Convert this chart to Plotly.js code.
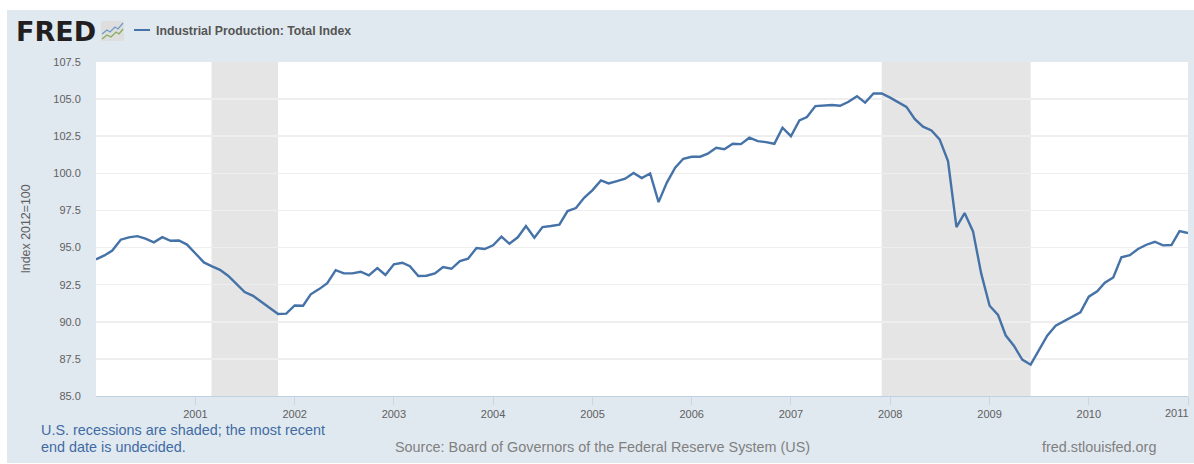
<!DOCTYPE html>
<html>
<head>
<meta charset="utf-8">
<script src="https://cdn.plot.ly/plotly-3.0.1.min.js"></script>
<style>
html,body{margin:0;padding:0;background:#fff;overflow:hidden}
#chart{position:absolute;left:7px;top:10px;width:1187px;height:453px}
</style>
</head>
<body>
<div id="chart"></div>
<script>
const seriesName = "Industrial Production: Total Index";
const startYear = 2000;
const values = [
  94.2,94.47,94.8,95.53,95.69,95.77,95.6,95.35,95.7,95.46,95.48,95.2,
  94.6,94.0,93.75,93.5,93.1,92.55,92.0,91.75,91.35,90.97,90.52,90.55,
  91.1,91.08,91.85,92.2,92.6,93.48,93.26,93.26,93.37,93.13,93.62,93.15,
  93.87,93.98,93.75,93.08,93.1,93.26,93.69,93.57,94.09,94.25,94.97,94.9,
  95.15,95.73,95.26,95.69,96.45,95.66,96.38,96.45,96.54,97.46,97.66,98.35,
  98.87,99.52,99.32,99.48,99.64,100.02,99.68,99.99,98.06,99.36,100.38,100.98,
  101.12,101.12,101.32,101.72,101.63,101.99,101.97,102.4,102.17,102.1,101.99,103.07,
  102.5,103.56,103.79,104.53,104.57,104.6,104.55,104.82,105.2,104.76,105.38,105.38,
  105.1,104.75,104.48,103.65,103.14,102.89,102.29,100.82,96.38,97.32,96.09,93.26,
  91.08,90.46,89.09,88.37,87.45,87.11,88.1,89.06,89.74,90.03,90.37,90.63,
  91.69,92.05,92.63,92.99,94.34,94.49,94.9,95.19,95.39,95.15,95.17,96.11,
  95.98
];
const dates = values.map((_, i) => {
  const y = startYear + Math.floor(i / 12), m = i % 12 + 1;
  return y + "-" + String(m).padStart(2, "0") + "-01";
});
const recessionStarts = ["2001-03-01", "2007-12-01"];
const recessionEnds = ["2001-11-01", "2009-06-01"];
const yTicks = [85,87.5,90,92.5,95,97.5,100,102.5,105,107.5];
const xTickYears = [2001,2002,2003,2004,2005,2006,2007,2008,2009,2010,2011];
const lastYear = xTickYears[xTickYears.length - 1];
const yTitle = "Index 2012=100";
const noteLines = ["U.S. recessions are shaded; the most recent", "end date is undecided."];
const sourceText = "Source: Board of Governors of the Federal Reserve System (US)";
const siteText = "fred.stlouisfed.org";

const W = 1187, H = 453, M = {l:89, r:6, t:52, b:67};
const PW = W - M.l - M.r, PH = H - M.t - M.b;
// page pixel -> paper fraction, for the furniture around the plot
const px = x => (x - 7 - M.l) / PW;
const py = y => 1 - (y - 10 - M.t) / PH;

const icon = "data:image/svg+xml," + encodeURIComponent(
 '<svg xmlns="http://www.w3.org/2000/svg" width="23" height="20" viewBox="0 0 23 20">' +
 '<rect width="23" height="20" rx="2" fill="#dedede"/>' +
 '<path d="M1 13 L6 9 L9 11 L14 6 L17 8 L22 2" fill="none" stroke="#6f9cc4" stroke-width="1.3"/>' +
 '<path d="M1 18 L6 14 L10 16 L15 11 L18 13 L22 8" fill="none" stroke="#85ad5f" stroke-width="1.3"/>' +
 '</svg>');

const FONT = "Liberation Sans, Arial, sans-serif";
const note = (text, x, y, opts) => Object.assign({
  text, xref:"paper", yref:"paper", x:px(x), y:py(y), xanchor:"left", yanchor:"middle",
  showarrow:false, align:"left", borderpad:0,
  font:{family:FONT, size:14.4, color:"#808080"}
}, opts);

const shapes = recessionStarts.map((s, i) => ({
  type:"rect", xref:"x", yref:"paper", x0:s, x1:recessionEnds[i], y0:0, y1:1,
  fillcolor:"#e5e5e5", line:{width:0}, layer:"between"
}));
shapes.push({type:"line", xref:"paper", yref:"paper", x0:px(134), x1:px(150), y0:py(30), y1:py(30),
  line:{color:"#4572a7", width:2}});

Plotly.newPlot("chart", [{
  type:"scatter", mode:"lines", name:seriesName, x:dates, y:values,
  line:{color:"#4572a7", width:2.4}, hoverinfo:"x+y", cliponaxis:false
}], {
  width:W, height:H, margin:M, showlegend:false,
  paper_bgcolor:"#e1e9f0", plot_bgcolor:"#ffffff",
  font:{family:FONT, size:11, color:"#606060"},
  xaxis:{
    type:"date", range:["2000-01-01","2011-01-01"], showgrid:false, zeroline:false,
    tickmode:"array",
    tickvals:xTickYears.map(y => y + "-01-01"),
    ticktext:xTickYears.map(y => y === lastYear ? "" : String(y)),
    ticks:"outside", ticklen:8, tickwidth:1, tickcolor:"#c8d6e6",
    showline:true, linecolor:"#c0d0e0", linewidth:1,
    tickfont:{size:11, color:"#606060"}, tickangle:0, automargin:false
  },
  yaxis:{
    range:[85,107.5], tickmode:"array", tickvals:yTicks, ticktext:yTicks.map(v => v.toFixed(1)),
    showgrid:true, gridcolor:"#eeeeee", gridwidth:1.5, zeroline:false, showline:false,
    ticks:"outside", ticklen:12, tickcolor:"rgba(0,0,0,0)",
    tickfont:{size:11, color:"#606060"}, automargin:false,
    title:{text:yTitle, font:{size:12.4, color:"#606060"}, standoff:19}
  },
  shapes,
  images:[{source:icon, xref:"paper", yref:"paper", x:px(101), y:py(21), sizex:23/PW, sizey:20/PH,
    xanchor:"left", yanchor:"top", sizing:"stretch", layer:"above"}],
  annotations:[
    note("<b>FRED</b>", 15, 31, {font:{family:"DejaVu Sans, sans-serif", size:27, color:"#231f20"}}),
    note("<b>" + seriesName + "</b>", 154.5, 30.5, {font:{family:FONT, size:12.3, color:"#555555"}}),
    note(String(lastYear), 1163.5, 412.5, {font:{family:FONT, size:11, color:"#606060"}}),
    note(noteLines[0], 40, 430, {font:{family:FONT, size:14.4, color:"#3f6ba3"}}),
    note(noteLines[1], 40, 447, {font:{family:FONT, size:14.4, color:"#3f6ba3"}}),
    note(sourceText, 394, 447, {}),
    note(siteText, 1041, 447, {})
  ]
}, {staticPlot:true, displayModeBar:false});
</script>
</body>
</html>
